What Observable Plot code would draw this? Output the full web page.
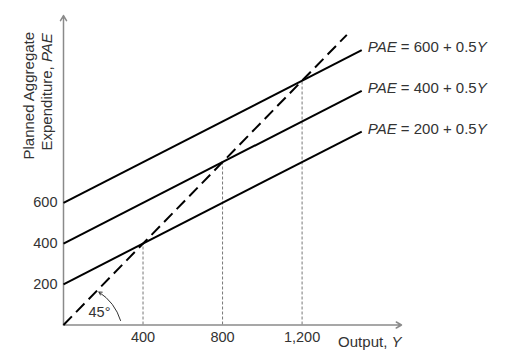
<!DOCTYPE html>
<html>
<head>
<meta charset="utf-8">
<script src="https://cdn.jsdelivr.net/npm/d3@7"></script>
<script src="https://cdn.jsdelivr.net/npm/@observablehq/plot@0.6"></script>
<style>
  html, body { margin: 0; padding: 0; background: #fff; }
  #chart svg { display: block; }
</style>
</head>
<body>
<div id="chart"></div>
<script>
// ---- data ----
const intercepts = [200, 400, 600];          // autonomous expenditure in PAE = c + 0.5Y
const slope = 0.5;                           // marginal propensity to spend
const lineEndY = 1500;                       // output at which the PAE lines stop
const equilibria = [400, 800, 1200];         // Y where PAE line meets 45° line
const diagonalEnd = 1425;                    // end of the 45° line
const xTicks = [400, 800, 1200];
const yTicks = [200, 400, 600];
const yTitleLines = ["Planned Aggregate", "Expenditure, PAE"];
const xTitle = "Output, Y";
const angleLabel = "45°";

const font = "'Liberation Sans', Arial, sans-serif";
const textColor = "#333";
const axisColor = "#8a8a8a";

const pae = intercepts.map(c => ({c, x1: 0, y1: c, x2: lineEndY, y2: c + slope * lineEndY,
  label: `PAE = ${c} + ${slope}Y`}));

const plot = Plot.plot({
  width: 513,
  height: 361,
  marginLeft: 63,
  marginRight: 112,
  marginTop: 15,
  marginBottom: 36.5,
  x: {domain: [0, 1700], axis: null},
  y: {domain: [0, 1520], axis: null},
  style: {fontFamily: font, background: "#fff", overflow: "visible"},
  marks: [
    // dashed vertical guides
    Plot.ruleX(equilibria, {x: d => d, y1: 0, y2: d => d, stroke: "#777", strokeWidth: 1, strokeDasharray: "3,2"}),
    // axes
    Plot.arrow([{x1: 0, y1: 0, x2: 1700, y2: 0}], {x1: "x1", y1: "y1", x2: "x2", y2: "y2", stroke: axisColor, strokeWidth: 1.5, headLength: 6}),
    Plot.arrow([{x1: 0, y1: 0, x2: 0, y2: 1520}], {x1: "x1", y1: "y1", x2: "x2", y2: "y2", stroke: axisColor, strokeWidth: 1.5, headLength: 6}),
    // PAE lines
    Plot.link(pae, {x1: "x1", y1: "y1", x2: "x2", y2: "y2", stroke: "#000", strokeWidth: 2}),
    // 45 degree line
    Plot.link([{x1: 0, y1: 0, x2: diagonalEnd, y2: diagonalEnd}], {x1: "x1", y1: "y1", x2: "x2", y2: "y2", stroke: "#000", strokeWidth: 2, strokeDasharray: "12,6"}),
    // 45° arc arrow
    Plot.arrow([{x1: 287, y1: 22, x2: 178, y2: 162}], {x1: "x1", y1: "y1", x2: "x2", y2: "y2", bend: -20, stroke: "#333", strokeWidth: 1, headLength: 5}),
    Plot.text([angleLabel], {x: 181, y: 61, text: d => d, fontSize: 14.5, fill: textColor}),
    // equation labels
    Plot.text(pae, {x: "x2", y: "y2", text: "label", textAnchor: "start", dx: 6, dy: -2.5, fontSize: 15, fill: textColor}),
    // tick labels
    Plot.text(xTicks, {x: d => d, y: 0, text: d => d3.format(",")(d), dy: 12.5, fontSize: 14.5, fill: textColor}),
    Plot.text(yTicks, {x: 0, y: d => d, text: d => String(d), textAnchor: "end", dx: -6, fontSize: 14.5, fill: textColor}),
    // axis titles
    Plot.text([xTitle], {x: 1700, y: 0, text: d => d, textAnchor: "end", dy: 17.5, fontSize: 15, fill: textColor}),
    Plot.text([yTitleLines[0]], {x: -171, y: 1126, text: d => d, rotate: -90, fontSize: 15, fill: textColor}),
    Plot.text([yTitleLines[1]], {x: -80, y: 1145, text: d => d, rotate: -90, fontSize: 15, fill: textColor})
  ]
});

// italicize variable names
d3.select(plot).selectAll("text").each(function() {
  const s = this.textContent;
  if (/PAE|Y$/.test(s) && this.children.length === 0) {
    const html = s.replace(/&/g, "&amp;").replace(/</g, "&lt;")
      .replace(/PAE/g, '<tspan font-style="italic">PAE</tspan>')
      .replace(/Y$/, '<tspan font-style="italic">Y</tspan>');
    this.innerHTML = html;
  }
});

document.getElementById("chart").appendChild(plot);
</script>
</body>
</html>
